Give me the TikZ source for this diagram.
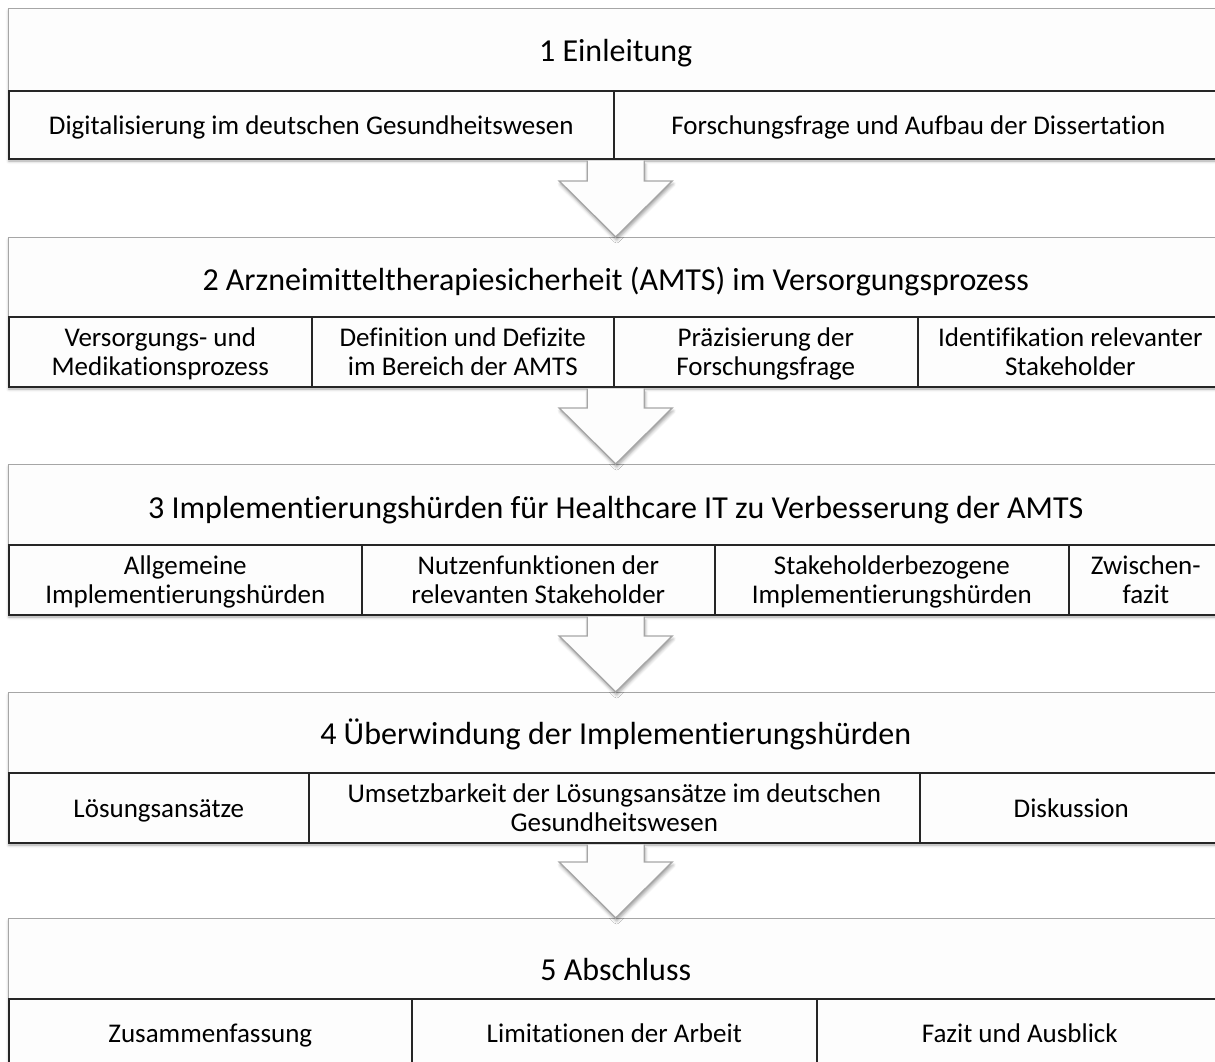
\documentclass[tikz,border=0pt]{standalone}
\usepackage{fontspec}
\setmainfont{Carlito}[Ligatures={NoCommon}]
\usetikzlibrary{calc,shadows.blur}

\definecolor{framegray}{HTML}{A6A6A6}
\definecolor{paper}{HTML}{FDFDFD}

\tikzset{
  titlebox/.style={draw=framegray, line width=1.4pt, fill=paper, rectangle,
    anchor=north west, inner sep=0pt},
  titletext/.style={inner sep=0pt, font=\fontsize{32}{36}\selectfont},
  cell/.style={draw=black!85, line width=1.6pt, fill=paper, rectangle,
    anchor=north west, inner sep=2pt, align=center,
    font=\fontsize{27}{29}\selectfont,
    text height=27.3pt, text depth=8.7pt},
  twolines/.style={text height=56.3pt, text depth=8.7pt},
  blockshade/.style={fill=paper, blur shadow={shadow xshift=1pt,
    shadow yshift=-3pt, shadow blur radius=3pt, shadow opacity=35}},
  flowarrow/.style={draw=framegray, line width=1.4pt, fill=paper,
    line join=miter, blur shadow={shadow xshift=1pt, shadow yshift=-3pt,
    shadow blur radius=3pt, shadow opacity=35}},
}

% block arrow from the cell row of one block down to the next block's title
\newcommand\chapterarrow[3]{%
  \path[flowarrow] let \p1=($(#1.center |- #2.south)$), \p2=(#3.north) in
    (\x1-28.5pt,\y1-1pt) -- (\x1-28.5pt,\y2+56pt) -- (\x1-56.5pt,\y2+56pt)
    -- (\x1,\y2) -- (\x1+56.5pt,\y2+56pt) -- (\x1+28.5pt,\y2+56pt)
    -- (\x1+28.5pt,\y1-1pt);
}

\begin{document}
\begin{tikzpicture}[x=1pt,y=-1pt]
\useasboundingbox (0,0) rectangle (1215,1061);
\clip (0,0) rectangle (1215,1061);

% chapter 1
\path[blockshade] (8,8) rectangle (1222,158);
\node[titlebox, minimum width=1214pt, minimum height=82pt] (t1) at (8,8) {};
\node[titletext] (h1) at ($(t1.center)+(0,3)$) {1 Einleitung};
\node[cell, minimum width=605pt, minimum height=68pt] (c11) at (8,90) {Digitalisierung im deutschen Gesundheitswesen};
\node[cell, minimum width=609pt, minimum height=68pt] (c12) at (613,90) {Forschungsfrage und Aufbau der Dissertation};

% chapter 2
\path[blockshade] (8,237) rectangle (1222,386);
\node[titlebox, minimum width=1214pt, minimum height=79pt] (t2) at (8,237) {};
\node[titletext] (h2) at ($(t2.center)+(0,4)$) {2 Arzneimitteltherapiesicherheit (AMTS) im Versorgungsprozess};
\node[cell, twolines, minimum width=303pt, minimum height=70pt] (c21) at (8,316) {Versorgungs- und\\Medikationsprozess};
\node[cell, twolines, minimum width=302pt, minimum height=70pt] (c22) at (311,316) {Definition und Defizite\\im Bereich der AMTS};
\node[cell, twolines, minimum width=304pt, minimum height=70pt] (c23) at (613,316) {Präzisierung der\\Forschungsfrage};
\node[cell, twolines, minimum width=305pt, minimum height=70pt] (c24) at (917,316) {Identifikation relevanter\\Stakeholder};

% chapter 3
\path[blockshade] (8,464) rectangle (1222,614);
\node[titlebox, minimum width=1214pt, minimum height=80pt] (t3) at (8,464) {};
\node[titletext] (h3) at ($(t3.center)+(0,5)$) {3 Implementierungshürden für Healthcare IT zu Verbesserung der AMTS};
\node[cell, twolines, minimum width=353pt, minimum height=70pt] (c31) at (8,544) {Allgemeine\\Implementierungshürden};
\node[cell, twolines, minimum width=353pt, minimum height=70pt] (c32) at (361,544) {Nutzenfunktionen der\\relevanten Stakeholder};
\node[cell, twolines, minimum width=354pt, minimum height=70pt] (c33) at (714,544) {Stakeholderbezogene\\Implementierungshürden};
\node[cell, twolines, minimum width=154pt, minimum height=70pt] (c34) at (1068,544) {Zwischen-\\fazit};

% chapter 4
\path[blockshade] (8,692) rectangle (1222,842);
\node[titlebox, minimum width=1214pt, minimum height=80pt] (t4) at (8,692) {};
\node[titletext] (h4) at ($(t4.center)+(0,2)$) {4 Überwindung der Implementierungshürden};
\node[cell, minimum width=300pt, minimum height=70pt] (c41) at (8,772) {Lösungsansätze};
\node[cell, twolines, minimum width=611pt, minimum height=70pt] (c42) at (308,772) {Umsetzbarkeit der Lösungsansätze im deutschen\\Gesundheitswesen};
\node[cell, minimum width=303pt, minimum height=70pt] (c43) at (919,772) {Diskussion};

% chapter 5
\path[blockshade] (8,918) rectangle (1222,1066);
\node[titlebox, minimum width=1214pt, minimum height=80pt] (t5) at (8,918) {};
\node[titletext] (h5) at ($(t5.center)+(0,11)$) {5 Abschluss};
\node[cell, minimum width=403pt, minimum height=68pt] (c51) at (8,998) {Zusammenfassung};
\node[cell, minimum width=405pt, minimum height=68pt] (c52) at (411,998) {Limitationen der Arbeit};
\node[cell, minimum width=406pt, minimum height=68pt] (c53) at (816,998) {Fazit und Ausblick};

% arrows between the chapters
\chapterarrow{t1}{c11}{t2}
\chapterarrow{t2}{c21}{t3}
\chapterarrow{t3}{c31}{t4}
\chapterarrow{t4}{c41}{t5}
\end{tikzpicture}
\end{document}
